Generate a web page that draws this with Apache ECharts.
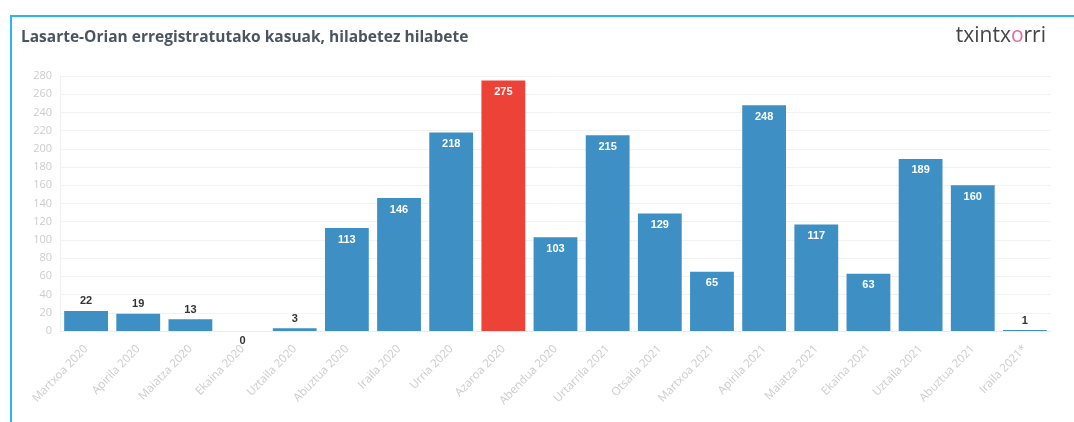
<!DOCTYPE html>
<html>
<head>
<meta charset="utf-8">
<script src="https://cdn.jsdelivr.net/npm/echarts@6/dist/echarts.min.js"></script>
<style>
  html, body { margin: 0; padding: 0; background: #fff; }
  #chart { width: 1074px; height: 422px; }
  /* marco azul del recorte original */
  #frame {
    position: absolute; left: 10px; top: 15px; width: 1064px; height: 407px;
    border-top: 2px solid #2cb5f0; border-left: 2px solid #2cb5f0;
    pointer-events: none;
  }
</style>
</head>
<body>
<div id="chart"></div>
<div id="frame"></div>
<script>
const months = [
  'Martxoa 2020', 'Apirila 2020', 'Maiatza 2020', 'Ekaina 2020', 'Uztaila 2020',
  'Abuztua 2020', 'Iraila 2020', 'Urria 2020', 'Azaroa 2020', 'Abendua 2020',
  'Urtarrila 2021', 'Otsaila 2021', 'Martxoa 2021', 'Apirila 2021', 'Maiatza 2021',
  'Ekaina 2021', 'Uztaila 2021', 'Abuztua 2021', 'Iraila 2021*'
];
const cases = [22, 19, 13, 0, 3, 113, 146, 218, 275, 103, 215, 129, 65, 248, 117, 63, 189, 160, 1];
const highlightMonth = 'Azaroa 2020';

const blue = '#3d8fc4';
const red = '#ec4237';
const axisText = '#cccccc';

// small bars get the label above, big bars inside in white
const barData = cases.map((v, i) => {
  const big = v > 40;
  return {
    value: v,
    itemStyle: { color: months[i] === highlightMonth ? red : blue },
    label: {
      show: true,
      position: big ? 'insideTop' : (v === 0 ? 'bottom' : 'top'),
      distance: big ? 6 : 4,
      color: big ? '#fff' : '#333',
      fontWeight: 'bold',
      fontSize: 11
    }
  };
});

const chart = echarts.init(document.getElementById('chart'));
chart.setOption({
  animation: false,
  title: {
    text: 'Lasarte-Orian erregistratutako kasuak, hilabetez hilabete',
    left: 16,
    top: 25,
    textStyle: { color: '#4b5561', fontSize: 15.5, fontWeight: 'bold', fontFamily: 'Open Sans' }
  },
  graphic: [{
    type: 'text',
    right: 28,
    top: 26,
    style: {
      text: '{a|txintx}{b|o}{a|rri}',
      rich: {
        a: { fontSize: 21, fill: '#444', fontFamily: 'Open Sans' },
        b: { fontSize: 21, fill: '#e86a9a', fontFamily: 'Open Sans' }
      }
    }
  }],
  grid: { left: 60, right: 23, top: 76, bottom: 91 },
  xAxis: {
    type: 'category',
    data: months,
    axisLine: { lineStyle: { color: '#ececec' } },
    axisTick: { show: false },
    axisLabel: {
      interval: 0,
      rotate: 46,
      color: axisText,
      fontSize: 11.5,
      margin: 16,
      fontFamily: 'Open Sans'
    }
  },
  yAxis: {
    type: 'value',
    min: 0,
    max: 280,
    interval: 20,
    axisLine: { show: true, lineStyle: { color: '#f0f0f0' } },
    axisTick: { show: false },
    axisLabel: { color: axisText, fontSize: 11, margin: 8, fontFamily: 'Open Sans' },
    splitLine: { lineStyle: { color: '#f2f2f2' } }
  },
  series: [{
    type: 'bar',
    data: barData,
    barCategoryGap: '16%'
  }]
});
</script>
</body>
</html>
